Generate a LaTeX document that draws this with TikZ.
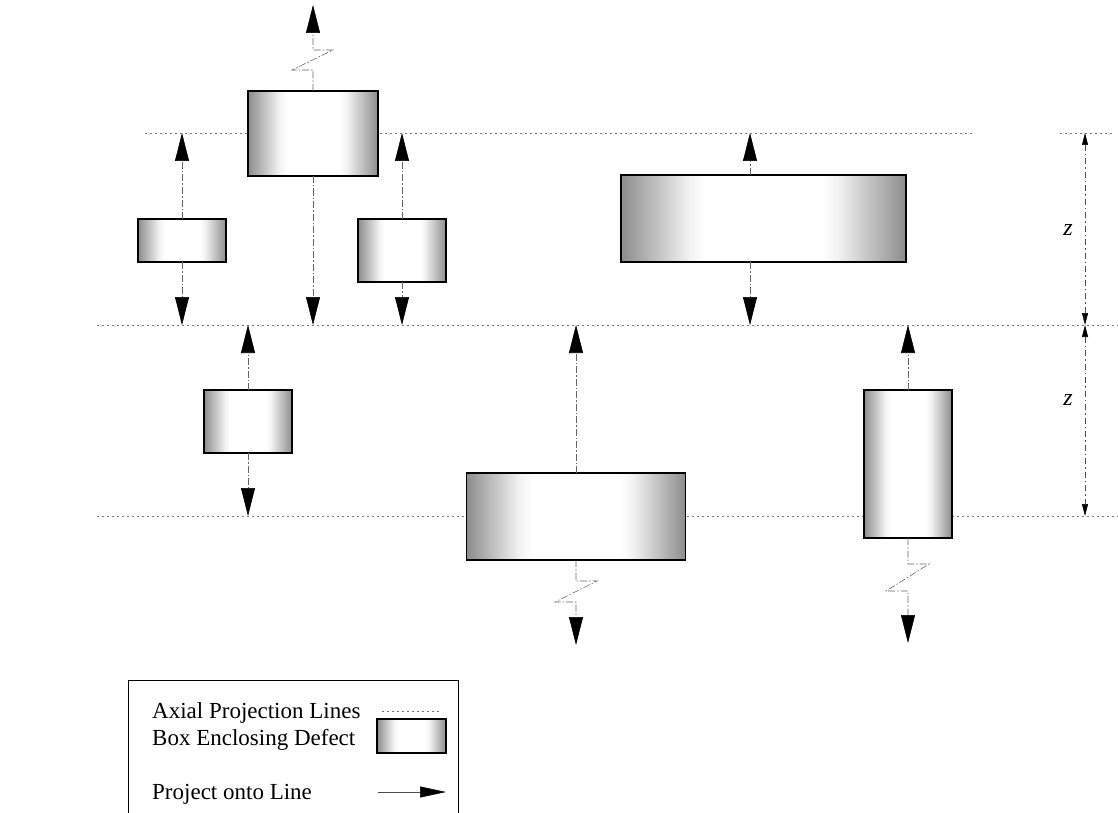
\documentclass[tikz,border=0pt]{standalone}
\usepackage{fontspec}
\setmainfont{Liberation Serif}
\usetikzlibrary{arrows.meta}
\pgfdeclarehorizontalshading{boxshade}{100bp}{color(0bp)=(black!45); color(25bp)=(black!45); color(31bp)=(black!25); color(37bp)=(black!5); color(40bp)=(white); color(60bp)=(white); color(63bp)=(black!5); color(69bp)=(black!25); color(75bp)=(black!45); color(100bp)=(black!45)}
\tikzset{
  axial/.style={draw=black!55, line width=0.7pt, dash pattern=on 1.5pt off 3.5pt},
  defbox/.style={draw=black, line width=1.8pt, shading=boxshade, rectangle, inner sep=0pt, outer sep=0pt},
  proj/.style={draw=black!60, line width=0.6pt, dash pattern=on 7pt off 2pt on 1.5pt off 2pt,
     -{Triangle[width=14pt,length=28pt,color=black]}},
  dimline/.style={draw=black!70, line width=0.6pt, dash pattern=on 6pt off 3pt on 1.5pt off 3pt,
     {Triangle[width=6pt,length=12pt,color=black]}-{Triangle[width=6pt,length=12pt,color=black]}},
  lgtext/.style={anchor=base west, font=\fontsize{23}{27}\selectfont, inner sep=0pt},
  zlabel/.style={font=\fontsize{24}{28}\selectfont\itshape, inner sep=0pt}
}
\begin{document}
\begin{tikzpicture}[x=1pt,y=-1pt]
\useasboundingbox (0,0) rectangle (1118,813);
% axial projection lines
\draw[axial] (145,133) -- (975,133);
\draw[axial] (97,325) -- (1118,325);
\draw[axial] (97,516) -- (1118,516);
\draw[axial] (1060,133) -- (1115,133);
% boxes
\node[defbox, minimum width=130pt, minimum height=85pt] (tb) at (313,133.5) {};
\node[defbox, minimum width=88pt, minimum height=43pt] (b1) at (182,240.5) {};
\node[defbox, minimum width=88pt, minimum height=63pt] (b2) at (402,250.5) {};
\node[defbox, minimum width=285pt, minimum height=87pt] (b3) at (763.5,218.5) {};
\node[defbox, minimum width=88pt, minimum height=63pt] (b4) at (248,421.5) {};
\node[defbox, minimum width=219pt, minimum height=87pt] (b5) at (576,516.5) {};
\node[defbox, minimum width=88pt, minimum height=148pt] (b6) at (908,464) {};
% arrow targets
\coordinate (tTop) at (313,5);
\coordinate (tDown) at (313,325);
\coordinate (b1u) at (182,133);
\coordinate (b1d) at (182,325);
\coordinate (b2u) at (402,133);
\coordinate (b2d) at (402,325);
\coordinate (b3u) at (750,133);
\coordinate (b3d) at (750,325);
\coordinate (b4u) at (248,325);
\coordinate (b4d) at (248,516);
\coordinate (b5u) at (576,325);
\coordinate (b5d) at (576,645);
\coordinate (b6u) at (908,325);
\coordinate (b6d) at (908,643);
% projections
\draw[proj] (tb.north) -- ++(0,-21) -- ++(-21,0) -- ++(41,-20) -- ++(-20,0) -- (tTop);
\draw[proj] (tb.south) -- (tDown);
\draw[proj] (b1.north) -- (b1u);
\draw[proj] (b1.south) -- (b1d);
\draw[proj] (b2.north) -- (b2u);
\draw[proj] (b2.south) -- (b2d);
\draw[proj] (b3.north -| b3u) -- (b3u);
\draw[proj] (b3.south -| b3d) -- (b3d);
\draw[proj] (b4.north) -- (b4u);
\draw[proj] (b4.south) -- (b4d);
\draw[proj] (b5.north) -- (b5u);
\draw[proj] (b5.south) -- ++(0,21) -- ++(21,0) -- ++(-42,21) -- ++(21,0) -- (b5d);
\draw[proj] (b6.north) -- (b6u);
\draw[proj] (b6.south) -- ++(0,26) -- ++(21,0) -- ++(-43,27) -- ++(22,0) -- (b6d);
% dimension
\coordinate (d1) at (1085,133);
\coordinate (d2) at (1085,325);
\coordinate (d3) at (1085,516);
\draw[dimline] (d1) -- (d2);
\draw[dimline] (d2) -- (d3);
\node[zlabel] (z1) at (1068,230) {z};
\node[zlabel] (z2) at (1068,400) {z};
% legend
\coordinate (lgA) at (128,813);
\coordinate (lgB) at (128,680);
\coordinate (lgC) at (458,680);
\coordinate (lgD) at (458,813);
\draw[line width=0.8pt] (lgA) -- (lgB) -- (lgC) -- (lgD);
\node[lgtext] (t1) at (152,718) {Axial Projection Lines};
\node[lgtext] (t2) at (152,745) {Box Enclosing Defect};
\node[lgtext] (t3) at (152,799) {Project onto Line};
\coordinate (la1) at (382,711);
\coordinate (la2) at (442,711);
\draw[axial] (la1) -- (la2);
\node[defbox, minimum width=69pt, minimum height=34pt] (lbox) at (411.5,736) {};
\coordinate (lp1) at (378,792);
\coordinate (lp2) at (446,792);
\draw[draw=black!70, line width=0.6pt, -{Triangle[width=11pt,length=26pt,color=black]}] (lp1) -- (lp2);
\end{tikzpicture}
\end{document}
